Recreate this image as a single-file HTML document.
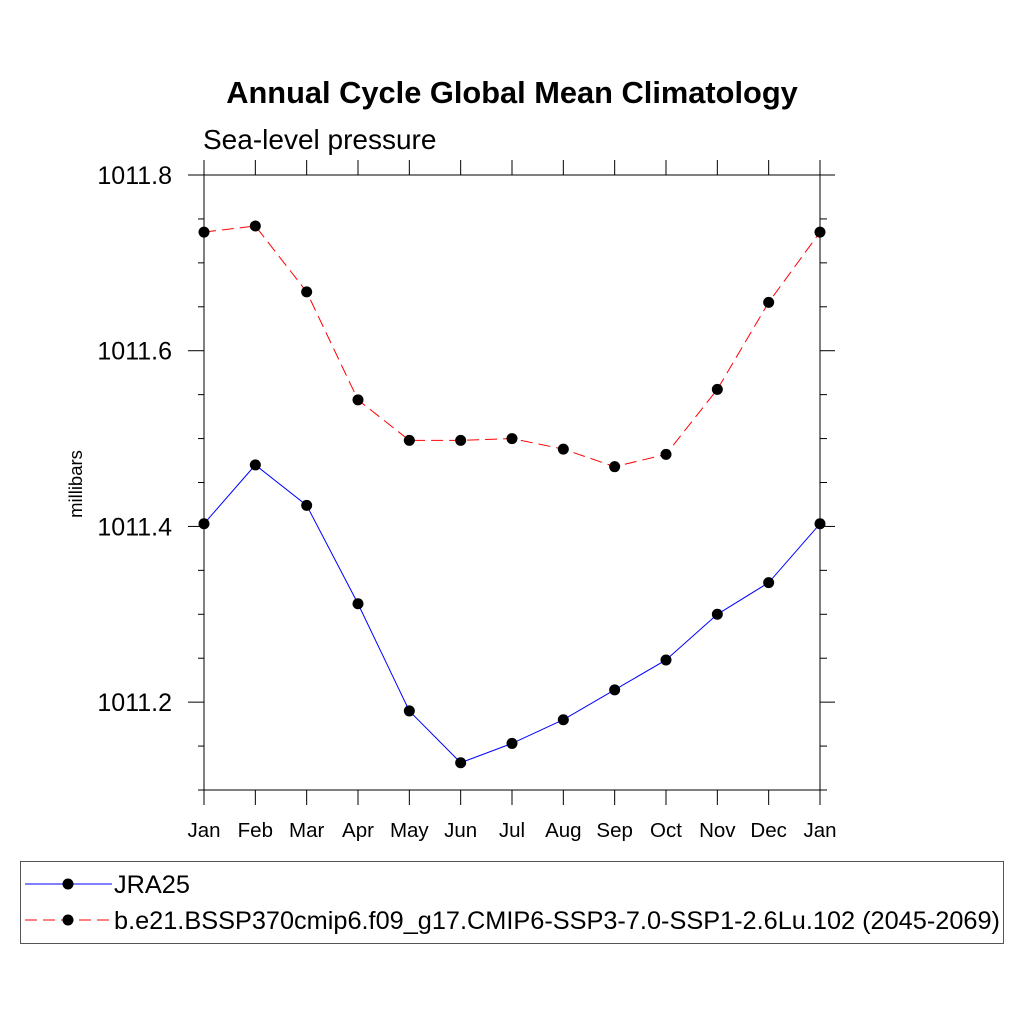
<!DOCTYPE html>
<html><head><meta charset="utf-8"><style>
body{margin:0;background:#fff}
svg text{font-family:"Liberation Sans",sans-serif}
</style></head><body>
<svg width="1024" height="1024" viewBox="0 0 1024 1024" id="svg">
<text x="512" y="103" text-anchor="middle" font-size="30.8" font-weight="bold">Annual Cycle Global Mean Climatology</text>
<text x="203" y="149" font-size="28">Sea-level pressure</text>
<text transform="translate(82,484) rotate(-90)" text-anchor="middle" font-size="18.5">millibars</text>
<g id="axes"></g>
<g id="series"></g>
<rect x="20.5" y="861.5" width="983" height="82" fill="none" stroke="#555" stroke-width="1"/>
<g>
<line x1="25" y1="884" x2="112" y2="884" stroke="#00f" stroke-width="1"/>
<circle cx="68" cy="884" r="5.5" fill="#000"/>
<text x="114" y="893" font-size="25.3">JRA25</text></g>
<g>
<line x1="25" y1="920" x2="112" y2="920" stroke="#f00" stroke-width="1" stroke-dasharray="12,6"/>
<circle cx="68" cy="920" r="5.5" fill="#000"/>
<text x="114" y="929" font-size="25.3">b.e21.BSSP370cmip6.f09_g17.CMIP6-SSP3-7.0-SSP1-2.6Lu.102 (2045-2069)</text></g>
</svg>
<script>
const months=["Jan","Feb","Mar","Apr","May","Jun","Jul","Aug","Sep","Oct","Nov","Dec","Jan"];
const jra25=[1011.403,1011.470,1011.424,1011.312,1011.190,1011.131,1011.153,1011.180,1011.214,1011.248,1011.300,1011.336,1011.403];
const model=[1011.735,1011.742,1011.667,1011.544,1011.498,1011.498,1011.500,1011.488,1011.468,1011.482,1011.556,1011.655,1011.735];
const yTicks=[1011.2,1011.4,1011.6,1011.8];
const yMin=1011.1,yMax=1011.8;
const X0=204,X1=820,Y0=790,Y1=175;
const NS="http://www.w3.org/2000/svg";
function xs(i){return X0+(X1-X0)*i/(months.length-1);}
function ys(v){return Y0-(v-yMin)/(yMax-yMin)*(Y0-Y1);}
function mk(t,a,p){const e=document.createElementNS(NS,t);for(const k in a)e.setAttribute(k,a[k]);p.appendChild(e);return e;}
const ax=document.getElementById('axes');
const fr=mk('rect',{x:X0,y:Y1,width:X1-X0,height:Y0-Y1,fill:'none',stroke:'#000','stroke-width':1},ax);


for(let v=yMin;v<=yMax+1e-9;v+=0.05){
  const y=ys(v);const major=yTicks.some(t=>Math.abs(t-v)<1e-6);
  mk('line',{x1:X0-(major?16:6),y1:y,x2:X0,y2:y,stroke:'#000','stroke-width':1},ax);
  mk('line',{x1:X1,y1:y,x2:X1+(major?15:7),y2:y,stroke:'#000','stroke-width':1},ax);
}
yTicks.forEach(v=>{const t=mk('text',{x:172,y:ys(v)+9,'text-anchor':'end','font-size':25},ax);t.textContent=v.toFixed(1);

});
months.forEach((m,i)=>{const x=xs(i);
  mk('line',{x1:x,y1:Y0,x2:x,y2:Y0+15,stroke:'#000','stroke-width':1},ax);
  mk('line',{x1:x,y1:Y1,x2:x,y2:Y1-15,stroke:'#000','stroke-width':1},ax);
  const t=mk('text',{x:x,y:837,'text-anchor':'middle','font-size':20.5},ax);t.textContent=m;
  
  });
const sg=document.getElementById('series');
function draw(data,color,dash,name){
  const pts=data.map((v,i)=>xs(i)+','+ys(v)).join(' ');
  const pl=mk('polyline',{points:pts,fill:'none',stroke:color,'stroke-width':1,'stroke-dasharray':dash},sg);
  
  
  data.forEach((v,i)=>{const c=mk('circle',{cx:xs(i),cy:ys(v),r:5.5,fill:'#000'},sg);
    
    });
}
draw(jra25,'#00f','none','jra25');
draw(model,'#f00','12,6','model');
</script>
</body></html>
